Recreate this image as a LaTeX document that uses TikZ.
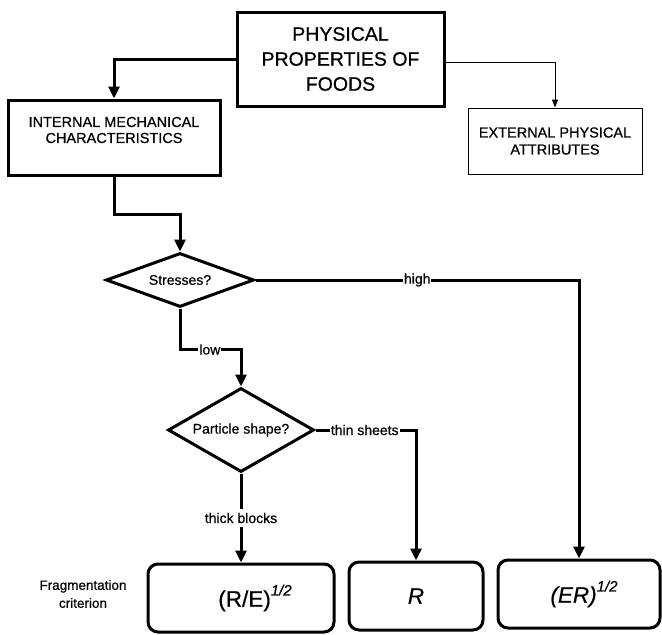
\documentclass[tikz,border=0pt]{standalone}
\usepackage{fontspec}
\setmainfont{Liberation Sans}[FakeBold=0.6]
\usetikzlibrary{arrows.meta,shapes.geometric}
\begin{document}
\begin{tikzpicture}[x=1pt,y=-1pt,
  thickarrow/.style={line width=3pt,-{Triangle[width=11pt,length=12pt]}},
  thinarrow/.style={line width=0.9pt,-{Triangle[width=6pt,length=8pt]}},
  boxthick/.style={draw,line width=3pt,rectangle,inner sep=0pt,align=center},
  boxthin/.style={draw,line width=0.9pt,rectangle,inner sep=0pt,align=center},
  result/.style={draw,line width=3pt,rectangle,rounded corners=10pt,inner sep=0pt,minimum height=68pt,font=\fontsize{22.5}{26}\selectfont},
  decision/.style={draw,line width=3pt,diamond,inner sep=0pt,font=\fontsize{14}{16}\selectfont},
  lbl/.style={fill=white,inner sep=1pt,font=\fontsize{14}{16}\selectfont},
]
\useasboundingbox (0,0) rectangle (662,635);

\node[boxthick,minimum width=207pt,minimum height=94pt,font=\fontsize{19.5}{25}\selectfont] (top) at (340.5,59) {PHYSICAL\\PROPERTIES OF\\FOODS};
\node[boxthick,minimum width=212pt,minimum height=75pt] (imc) at (114,137.5) {};
\node[align=center,font=\fontsize{14.5}{16}\selectfont,inner sep=0pt] (imct) at (114,130) {INTERNAL MECHANICAL\\CHARACTERISTICS};
\node[boxthin,minimum width=174pt,minimum height=66pt,font=\fontsize{14.5}{17}\selectfont] (ext) at (555,141) {EXTERNAL PHYSICAL\\ATTRIBUTES};

\node[decision,aspect=3,minimum width=148pt,minimum height=54pt] (d1) at (180,280) {Stresses?};
\node[decision,aspect=2,minimum width=146pt,minimum height=84pt] (d2) at (241,430) {Particle shape?};

\node[result,minimum width=186pt] (re) at (241,598) {\hspace*{28pt}(R/E)\raisebox{0.5em}{\fontsize{15}{15}\selectfont\itshape 1/2}};
\node[result,minimum width=134pt] (r) at (416,596) {\itshape R};
\node[result,minimum width=162pt] (er) at (579,594) {\hspace*{10pt}\itshape (ER)\raisebox{0.5em}{\fontsize{15}{15}\selectfont 1/2}};

\node[align=center,font=\fontsize{13.5}{18}\selectfont,inner sep=0pt] (frag) at (83,594) {Fragmentation\\criterion};

\draw[thickarrow] (top.west) -| (imc.north);
\draw[thinarrow] ([yshift=-3pt]top.east) -| (ext.north);
\draw[thickarrow] (imc.south) -- ++(0,38) -| (d1.north);
\draw[thickarrow] (d1.east) -| node[lbl,pos=0.25] {high} (er.north);
\draw[thickarrow] (d1.south) -- ++(0,41) -| node[lbl,pos=0.245] {low} (d2.north);
\draw[thickarrow] (d2.east) -| node[lbl,pos=0.245] {thin sheets} (r.north);
\draw[thickarrow] (d2.south) -- node[lbl,pos=0.5,inner sep=4pt] {thick blocks} (re.north);
\end{tikzpicture}
\end{document}
